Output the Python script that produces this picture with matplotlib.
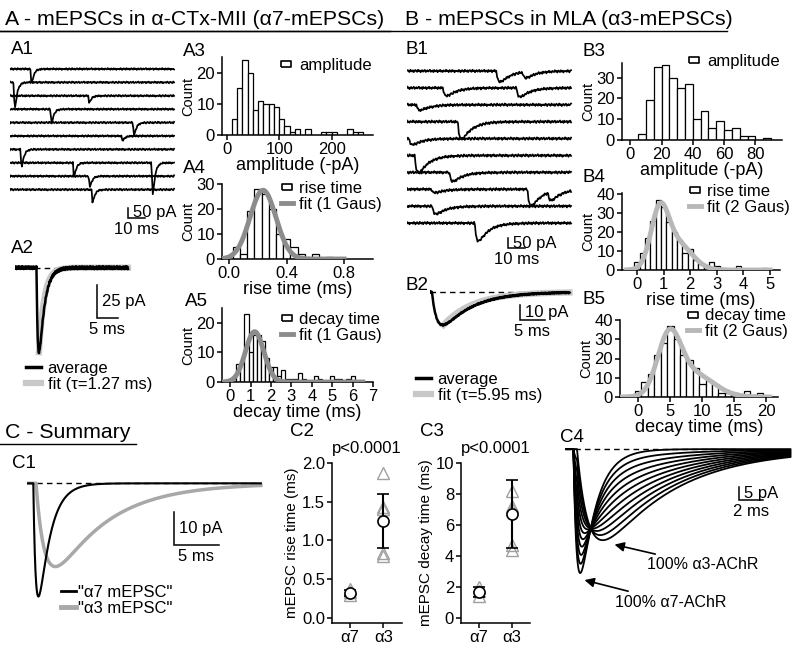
import numpy as np
import matplotlib.pyplot as plt
from matplotlib.lines import Line2D
from matplotlib.ticker import FormatStrFormatter

plt.rcParams['font.family'] = ['Liberation Sans', 'DejaVu Sans']
plt.rcParams.update({
    'axes.linewidth': 1.1,
    'xtick.major.width': 1.1, 'ytick.major.width': 1.1,
    'xtick.major.size': 3.5, 'ytick.major.size': 3.5,
    'xtick.major.pad': 1.5, 'ytick.major.pad': 1.5,
    'xtick.labelsize': 12, 'ytick.labelsize': 12,
    'axes.labelsize': 13,
})

W, H = 800, 650

# kinetics of the two mEPSC types: rise tau, decay tau (ms)
a7_kin = [0.3, 1.27]
a3_kin = [1.0, 5.95]

# hand-typed baseline noise (arbitrary units)
noise = [0.2, -0.5, 0.8, 0.1, -0.9, 0.4, 0.6, -0.3, -0.7, 0.9, 0.0, -0.4, 0.5, -0.8, 0.3, 0.7,
         -0.2, -0.6, 0.9, -0.1, 0.4, -0.9, 0.2, 0.6, -0.5, 0.1, 0.8, -0.7, -0.2, 0.5, -0.4, 0.3,
         0.9, -0.6, 0.0, 0.4, -0.8, 0.7, -0.3, 0.1, 0.6, -0.9, 0.3, -0.1, 0.8, -0.5, 0.2, -0.7,
         0.5, 0.0, -0.4, 0.9, -0.2, 0.3, -0.8, 0.6, 0.1, -0.6, 0.7, -0.3, 0.4, -0.9, 0.2, -0.1]

# A1 example sweeps: row, event onset (ms), amplitude (pA)
a1_row = [0, 1, 2, 3, 4, 5, 6, 7, 7, 8, 9]
a1_time = [12.1, 2.3, 46.1, 23.9, 72.4, 65.7, 6.3, 37.0, 83.4, 46.4, 48.0]
a1_amp = [70, 130, 33, 67, 63, 23, 83, 70, 158, 52, 63]

# B1 example sweeps
b1_row = [0, 0, 1, 1, 2, 3, 4, 5, 6, 7, 7, 7, 8, 9]
b1_time = [52.6, 67.9, 21.2, 64.4, 5.5, 29.9, 1.2, 4.6, 24.9, 14.4, 70.9, 82.9, 14.9, 39.9]
b1_amp = [55, 30, 40, 45, 27, 87, 30, 87, 45, 17, 83, 42, 40, 90]

# averages: onset (ms), amplitude (pA)
a2_avg = [5.13, 64]
b2_avg = [0.4, 22]

# A3-A5 histograms
a3_amp = [15, 25, 35, 45, 55, 65, 75, 85, 95, 105, 115, 125, 135, 155, 185, 195, 205, 235, 245, 255]
a3_count = [5, 15, 24, 20, 8, 11, 10, 10, 9, 5, 3, 1, 2, 2, 1, 1, 1, 2, 1, 1]
a4_rise = [0.05, 0.10, 0.15, 0.20, 0.25, 0.30, 0.35, 0.40, 0.45, 0.50, 0.60, 0.70]
a4_count = [5, 2, 19, 28, 26, 20, 10, 8, 5, 2, 2, 1]
a4_fit = [27.5, 0.235, 0.09]
a5_decay = [0.0, 0.2, 0.4, 0.6, 0.8, 1.0, 1.2, 1.4, 1.6, 1.8, 2.0, 2.2, 2.4, 2.6, 2.8,
            3.0, 3.2, 3.4, 3.6, 4.2, 4.4, 5.0, 5.2, 5.4, 5.8, 6.0]
a5_count = [1, 1, 6, 6, 23, 10, 16, 16, 14, 8, 5, 5, 2, 4, 1, 1, 1, 3, 1, 2, 1, 2, 1, 1, 1, 2]
a5_fit = [17.0, 1.2, 0.45]

# B3-B5 histograms
b3_amp = [7.5, 12.5, 17.5, 22.5, 27.5, 32.5, 37.5, 42.5, 47.5, 52.5, 57.5, 62.5, 67.5, 72.5, 77.5, 87.5]
b3_count = [3, 19, 35, 36, 30, 25, 27, 10, 14, 6, 9, 5, 6, 2, 2, 1]
b4_rise = [0.0, 0.2, 0.4, 0.6, 0.8, 1.0, 1.2, 1.4, 1.6, 1.8, 2.0, 2.2, 2.4, 2.6, 2.8, 3.0, 3.2, 3.8, 4.8]
b4_count = [4, 9, 17, 26, 37, 33, 25, 20, 16, 9, 11, 5, 3, 2, 4, 2, 1, 2, 1]
b4_fit = [28, 0.85, 0.33, 14, 1.5, 0.55]
b5_decay = [0, 1, 2, 3, 4, 5, 6, 7, 8, 9, 10, 11, 12, 13, 14, 15, 16, 17, 18, 19]
b5_count = [3, 8, 12, 22, 28, 37, 30, 22, 19, 15, 7, 9, 7, 2, 2, 2, 1, 3, 1, 2]
b5_fit = [29, 4.8, 1.8, 12, 8.5, 3.2]

# C2 / C3 summary
groups = ['\u03b17', '\u03b13']
c2_mean = [0.32, 1.25]
c2_sd = [0.04, 0.35]
c2_cells = [[0.37, 0.33, 0.29], [1.87, 1.43, 1.40, 0.83, 0.80]]
c3_mean = [1.65, 6.7]
c3_sd = [0.3, 2.2]
c3_cells = [[2.0, 1.7, 1.4], [8.2, 7.2, 7.0, 4.7, 4.4]]

# C1 / C4 model
c1_amp = [34, 25]
c4_amp = [49, 36]
c4_frac = [0.0, 0.1, 0.2, 0.3, 0.4, 0.5, 0.6, 0.7, 0.8, 0.9, 1.0]
a7_onset, a3_onset = 0.7, 1.0


def epsc(t, onset, tau_r, tau_d, amp):
    s = np.clip(t - onset, 0, None)
    tp = tau_r * tau_d / (tau_d - tau_r) * np.log(tau_d / tau_r)
    peak = np.exp(-tp / tau_d) - np.exp(-tp / tau_r)
    return -amp * (np.exp(-s / tau_d) - np.exp(-s / tau_r)) / peak


def gauss(x, p):
    y = np.zeros_like(x)
    for k in range(0, len(p), 3):
        y = y + p[k] * np.exp(-(x - p[k + 1]) ** 2 / (2 * p[k + 2] ** 2))
    return y


def noise_at(n, shift):
    return np.array([noise[(k + shift) % len(noise)] for k in range(n)])


fig = plt.figure(figsize=(W / 100, H / 100), dpi=100)


def box(x0, y0, x1, y1):
    return fig.add_axes([x0 / W, 1 - y1 / H, (x1 - x0) / W, (y1 - y0) / H])


def trace_box(x0, y0, x1, y1, px_ms, px_pa, pa_top):
    ax = box(x0, y0, x1, y1)
    ax.set_xlim(0, (x1 - x0) / px_ms)
    ax.set_ylim(pa_top - (y1 - y0) / px_pa, pa_top)
    ax.axis('off')
    return ax


def label(x, y, s, size=13.5):
    fig.text(x / W, 1 - y / H, s, fontsize=size, ha='left', va='center')


def header(x, y, s, x_end):
    fig.text(x / W, 1 - y / H, s, fontsize=15.3, ha='left', va='baseline')
    fig.add_artist(Line2D([0, x_end / W], [1 - (y + 6) / H] * 2, color='black', lw=1.0,
                          transform=fig.transFigure))


def scalebar(ax, t, y, dy, dt, ylab, tlab):
    ax.plot([t, t, t + dt], [y + dy, y, y], color='black', lw=1.1, solid_joinstyle='miter')
    ax.annotate(ylab, xy=(t, y + dy / 2), xytext=(3.5, 0), textcoords='offset points',
                fontsize=12, va='center', ha='left')
    ax.annotate(tlab, xy=(t + dt / 2, y), xytext=(0, -3), textcoords='offset points',
                fontsize=12, va='top', ha='center')


bar_mark = [(-1, -0.55), (1, -0.55), (1, 0.55), (-1, 0.55), (-1, -0.55)]


def hist_panel(x0, y0, x1, y1, centers, counts, width, xlim, ylim, xticks, yticks, xlabel):
    ax = box(x0, y0, x1, y1)
    ax.bar(centers, counts, width=width, color='white', edgecolor='black', linewidth=0.9, zorder=2)
    ax.set_xlim(*xlim)
    ax.set_ylim(*ylim)
    ax.set_xticks(xticks)
    ax.set_yticks(yticks)
    ax.set_xlabel(xlabel, labelpad=0)
    ax.set_ylabel('Count', fontsize=10.5, labelpad=1)
    for s in ('top', 'right'):
        ax.spines[s].set_visible(False)
    return ax


def hist_legend(ax, labels, fit_color, anchor):
    handles = [Line2D([], [], ls='none', marker=bar_mark, ms=7, mfc='white', mec='black', mew=1.2)]
    if len(labels) > 1:
        handles.append(Line2D([], [], color=fit_color, lw=3.5))
    ax.legend(handles, labels, loc='upper right', bbox_to_anchor=anchor, frameon=False,
              fontsize=12, handlelength=0.7, handletextpad=0.4, labelspacing=0.05,
              borderpad=0, borderaxespad=0)


def trace_legend(ax, handles, labels, x, y, pad=0.4):
    ax.legend(handles, labels, loc='upper left', bbox_to_anchor=(x / W, 1 - y / H),
              bbox_transform=fig.transFigure, frameon=False, fontsize=12, handlelength=0.9,
              handletextpad=pad, labelspacing=0.05, borderpad=0, borderaxespad=0)


# ---------------- headers ----------------
header(5, 25, 'A - mEPSCs in \u03b1-CTx-MII (\u03b17-mEPSCs)', 390)
header(405, 25, 'B - mEPSCs in MLA (\u03b13-mEPSCs)', 727)
header(5, 438, 'C - Summary', 136)

# ---------------- A1 ----------------
label(11, 50, 'A1')
ax = trace_box(10, 55, 180, 240, 1.7, 0.2, 0)
t1 = np.arange(0, 97, 0.5)
for i in range(10):
    y = -70 - 67 * i + 5 * noise_at(len(t1), 9 * i)
    for r, tt, aa in zip(a1_row, a1_time, a1_amp):
        if r == i:
            y = y + epsc(t1, tt, *a7_kin, aa)
    ax.plot(t1, y, color='black', lw=1.25)
scalebar(ax, 69.4, -815, 50, 10, '50 pA', '10 ms')

# ---------------- A2 ----------------
label(11, 248, 'A2')
ax = trace_box(15, 255, 150, 360, 4.2, 1.32, 9.6)
t2 = np.arange(0, 27, 0.1)
avg = epsc(t2, a2_avg[0], *a7_kin, a2_avg[1]) + 1.2 * noise_at(len(t2), 0)
pk = t2[np.argmin(avg)]
tf = t2[t2 >= pk]
ax.plot([0, 27], [0, 0], color='black', lw=1, ls=(0, (4, 3)))
ax.plot(tf, -a2_avg[1] * np.exp(-(tf - pk) / a7_kin[1]), color='#c8c8c8', lw=4.5)
ax.plot(t2, avg, color='black', lw=1.8)
scalebar(ax, 19.5, -38.1, 25, 5, '25 pA', '5 ms')
trace_legend(ax, [Line2D([], [], color='black', lw=2.5), Line2D([], [], color='#c8c8c8', lw=4.5)],
             ['average', 'fit (\u03c4=1.27 ms)'], 26, 361)

# ---------------- B1 ----------------
label(406, 50, 'B1')
ax = trace_box(407, 55, 580, 270, 1.7, 0.2, 0)
for i in range(10):
    y = -80 - 84.5 * i + 7 * noise_at(len(t1), 13 * i + 5)
    for r, tt, aa in zip(b1_row, b1_time, b1_amp):
        if r == i:
            y = y + epsc(t1, tt, *a3_kin, aa)
    ax.plot(t1, y, color='black', lw=1.25)
scalebar(ax, 59.4, -965, 50, 10, '50 pA', '10 ms')

# ---------------- B2 ----------------
label(406, 285, 'B2')
ax = trace_box(430, 280, 580, 345, 5.0, 1.5, 8.0)
t3 = np.arange(0, 28, 0.1)
avgb = epsc(t3, b2_avg[0], *a3_kin, b2_avg[1]) + 0.5 * noise_at(len(t3), 20)
pkb = t3[np.argmin(avgb)]
tfb = t3[t3 >= pkb]
ax.plot([0, 28], [0, 0], color='black', lw=1, ls=(0, (4, 3)))
ax.plot(tfb, -b2_avg[1] * np.exp(-(tfb - pkb) / a3_kin[1]), color='#c8c8c8', lw=4.5)
ax.plot(t3, avgb, color='black', lw=1.8)
scalebar(ax, 18.0, -18.7, 10, 5, '10 pA', '5 ms')
trace_legend(ax, [Line2D([], [], color='black', lw=2.5), Line2D([], [], color='#c8c8c8', lw=4.5)],
             ['average', 'fit (\u03c4=5.95 ms)'], 416, 372)

# ---------------- A3-A5 ----------------
label(183, 51, 'A3')
ax = hist_panel(222, 57, 373, 135, a3_amp, a3_count, 10, (-9, 279), (0, 25), [0, 100, 200],
                [0, 10, 20], 'amplitude (-pA)')
hist_legend(ax, ['amplitude'], None, (0.99, 0.99))

label(183, 168, 'A4')
ax = hist_panel(222, 184, 373, 259, a4_rise, a4_count, 0.05, (-0.05, 1.0), (0, 30),
                [0.0, 0.4, 0.8], [0, 10, 20, 30], 'rise time (ms)')
ax.xaxis.set_major_formatter(FormatStrFormatter('%.1f'))
xf = np.linspace(-0.05, 0.8, 200)
ax.plot(xf, gauss(xf, a4_fit), color='#8c8c8c', lw=3.5, zorder=3)
hist_legend(ax, ['rise time', 'fit (1 Gaus)'], '#8c8c8c', (1.06, 1.04))

label(185, 301, 'A5')
ax = hist_panel(222, 308, 373, 382, a5_decay, a5_count, 0.2, (-0.4, 7.0), (0, 25),
                range(0, 8), [0, 10, 20], 'decay time (ms)')
xf = np.linspace(-0.3, 6.5, 300)
ax.plot(xf, gauss(xf, a5_fit), color='#8c8c8c', lw=3.5, zorder=3)
hist_legend(ax, ['decay time', 'fit (1 Gaus)'], '#8c8c8c', (1.06, 0.95))

# ---------------- B3-B5 ----------------
label(583, 51, 'B3')
ax = hist_panel(622, 63, 782, 140, b3_amp, b3_count, 5, (-5.3, 97), (0, 37), range(0, 81, 20),
                [0, 10, 20, 30], 'amplitude (-pA)')
hist_legend(ax, ['amplitude'], None, (0.985, 1.12))

label(583, 178, 'B4')
ax = hist_panel(622, 193, 780, 270, b4_rise, b4_count, 0.2, (-0.56, 5.37), (0, 40.5),
                range(0, 6), range(0, 41, 10), 'rise time (ms)')
xf = np.linspace(-0.4, 5.0, 300)
ax.plot(xf, gauss(xf, b4_fit), color='#b8b8b8', lw=3.5, zorder=3)
hist_legend(ax, ['rise time', 'fit (2 Gaus)'], '#b8b8b8', (1.065, 1.12))

label(583, 300, 'B5')
ax = hist_panel(620, 320, 778, 397, b5_decay, b5_count, 1.0, (-2.85, 21.8), (0, 40),
                range(0, 21, 5), range(0, 41, 10), 'decay time (ms)')
xf = np.linspace(-2.5, 20.5, 300)
ax.plot(xf, gauss(xf, b5_fit), color='#b8b8b8', lw=3.5, zorder=3)
hist_legend(ax, ['decay time', 'fit (2 Gaus)'], '#b8b8b8', (1.065, 1.15))

# ---------------- C1 ----------------
label(12, 463, 'C1')
ax = trace_box(27, 470, 280, 625, 9.0, 3.33, 4.0)
tc = np.arange(0, 26, 0.02)
ax.plot([0, 26], [0, 0], color='black', lw=1, ls=(0, (4, 3)))
ax.plot(tc, epsc(tc, a3_onset, *a3_kin, c1_amp[1]), color='#a8a8a8', lw=2.5)
ax.plot(tc, epsc(tc, a7_onset, *a7_kin, c1_amp[0]), color='black', lw=1.5)
scalebar(ax, 16.3, -18.5, 10, 5, '10 pA', '5 ms')
trace_legend(ax, [Line2D([], [], color='black', lw=2), Line2D([], [], color='#a8a8a8', lw=3.5)],
             ['"\u03b17 mEPSC"', '"\u03b13 mEPSC"'], 61, 585, pad=0.1)


# ---------------- C2 / C3 ----------------
def summary(x0, x1, mean, sd, cells, ylim, yticks, fmt, ylab):
    ax = box(x0, 463, x1, 623)
    for k, vals in enumerate(cells):
        ax.plot([k] * len(vals), vals, ls='none', marker='^', ms=8, mfc='none', mec='#a0a0a0',
                mew=1.0, zorder=2)
    ax.errorbar([0, 1], mean, yerr=sd, fmt='o', ms=8, mfc='white', mec='black', mew=1.2,
                ecolor='black', elinewidth=1.5, capsize=4, capthick=1.5, zorder=3)
    ax.set_xlim(-0.53, 1.55)
    ax.set_ylim(*ylim)
    ax.set_yticks(yticks)
    ax.yaxis.set_major_formatter(FormatStrFormatter(fmt))
    ax.set_xticks([0, 1])
    ax.set_xticklabels(groups)
    ax.set_ylabel(ylab, fontsize=11, labelpad=2)
    ax.set_title('p<0.0001', fontsize=12, pad=7)
    for s in ('top', 'right'):
        ax.spines[s].set_visible(False)
    return ax


summary(332, 402, c2_mean, c2_sd, c2_cells, (-0.07, 2.0), [0, 0.5, 1.0, 1.5, 2.0], '%.1f',
        'mEPSC rise time (ms)')
label(290, 432, 'C2')
summary(461, 530, c3_mean, c3_sd, c3_cells, (-0.35, 10), range(0, 11, 2), '%d',
        'mEPSC decay time (ms)')
label(420, 432, 'C3')

# ---------------- C4 ----------------
label(560, 437, 'C4')
ax = trace_box(565, 440, 798, 645, 12.0, 2.53, 3.6)
t4 = np.arange(0, 18.8, 0.02)
ax.plot([0, 14.3], [0, 0], color='black', lw=1, ls=(0, (4, 3)))
for f in c4_frac:
    y = f * epsc(t4, a7_onset, *a7_kin, c4_amp[0]) + (1 - f) * epsc(t4, a3_onset, *a3_kin, c4_amp[1])
    ax.plot(t4, y, color='black', lw=1.3)
scalebar(ax, 14.5, -20, 5, 2, '5 pA', '2 ms')
arrow = dict(arrowstyle='-|>', color='black', lw=1.2, mutation_scale=14)
ax.annotate('100% \u03b13-AChR', xy=(3.9, -37.5), xytext=(6.8, -45.8), fontsize=11.5,
            va='center', ha='left', arrowprops=arrow)
ax.annotate('100% \u03b17-AChR', xy=(1.4, -51.5), xytext=(4.2, -60.5), fontsize=11.5,
            va='center', ha='left', arrowprops=arrow)

fig.savefig('out.png', dpi=100)
